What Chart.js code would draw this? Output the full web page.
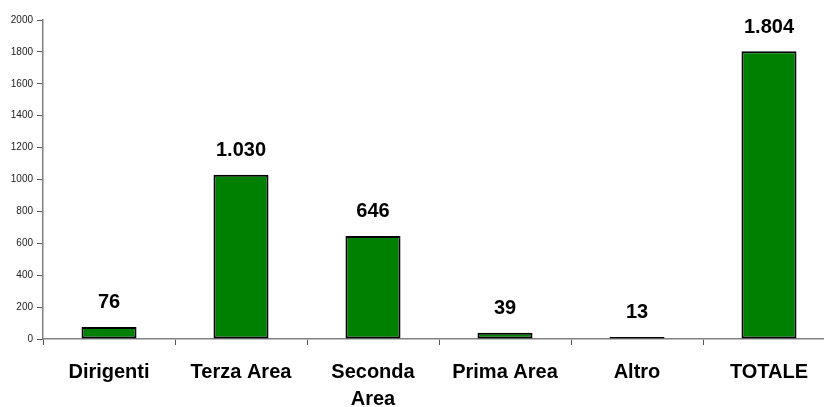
<!DOCTYPE html>
<html>
<head>
<meta charset="utf-8">
<script src="https://cdn.jsdelivr.net/npm/chart.js@4/dist/chart.umd.min.js"></script>
<style>
    html, body { margin: 0; padding: 0; background: #fff; overflow: hidden; }
    #wrap { width: 835px; height: 407px; }
</style>
</head>
<body>
<div id="wrap"><canvas id="personaleChart" width="835" height="407"></canvas></div>
<script>
// Personale per area
const categorie = ['Dirigenti', 'Terza Area', ['Seconda', 'Area'], 'Prima Area', 'Altro', 'TOTALE'];
const valori = [76, 1030, 646, 39, 13, 1804];
const yTicks = [0, 200, 400, 600, 800, 1000, 1200, 1400, 1600, 1800, 2000];

const FONT = "'Liberation Sans', Arial, sans-serif";

// numeri con separatore delle migliaia all'italiana (1.804)
function formatta(n) {
    return String(n).replace(/\B(?=(\d{3})+(?!\d))/g, '.');
}

const etichetteValori = {
    id: 'etichetteValori',
    afterDatasetsDraw(chart) {
        const ctx = chart.ctx;
        const meta = chart.getDatasetMeta(0);
        ctx.save();
        ctx.font = 'bold 20px ' + FONT;
        ctx.fillStyle = '#000';
        ctx.textAlign = 'center';
        ctx.textBaseline = 'middle';
        meta.data.forEach((bar, i) => {
            ctx.fillText(formatta(valori[i]), bar.x, bar.y - 24);
        });
        ctx.restore();
    }
};

const ctx = document.getElementById('personaleChart').getContext('2d');
new Chart(ctx, {
    type: 'bar',
    data: {
        labels: categorie,
        datasets: [{
            data: valori,
            backgroundColor: '#008000',
            borderColor: '#000',
            borderWidth: 2,
            borderSkipped: false,
            barPercentage: 0.417,
            categoryPercentage: 1
        }]
    },
    options: {
        responsive: false,
        animation: false,
        layout: { padding: { top: 20, right: 0, left: 0, bottom: 0 } },
        plugins: {
            legend: { display: false },
            tooltip: { enabled: false }
        },
        scales: {
            x: {
                afterFit(scale) { scale.height = 68; },
                grid: {
                    offset: true,
                    drawOnChartArea: false,
                    drawTicks: true,
                    tickLength: 6,
                    color: '#555'
                },
                border: { color: '#808080', width: 1.5 },
                ticks: {
                    padding: 14,
                    color: '#000',
                    maxRotation: 0,
                    autoSkip: false,
                    font: { family: FONT, size: 20, weight: 'bold', lineHeight: 1.35 }
                }
            },
            y: {
                min: 0,
                max: 2000,
                afterFit(scale) { scale.width = 43; },
                afterBuildTicks(scale) { scale.ticks = yTicks.map(v => ({ value: v })); },
                grid: {
                    drawOnChartArea: false,
                    drawTicks: true,
                    tickLength: 6,
                    color: '#555'
                },
                border: { color: '#808080', width: 1.5 },
                ticks: {
                    padding: 4,
                    color: '#222',
                    font: { family: FONT, size: 10 },
                    callback: v => String(v)
                }
            }
        }
    },
    plugins: [etichetteValori]
});
</script>
</body>
</html>
